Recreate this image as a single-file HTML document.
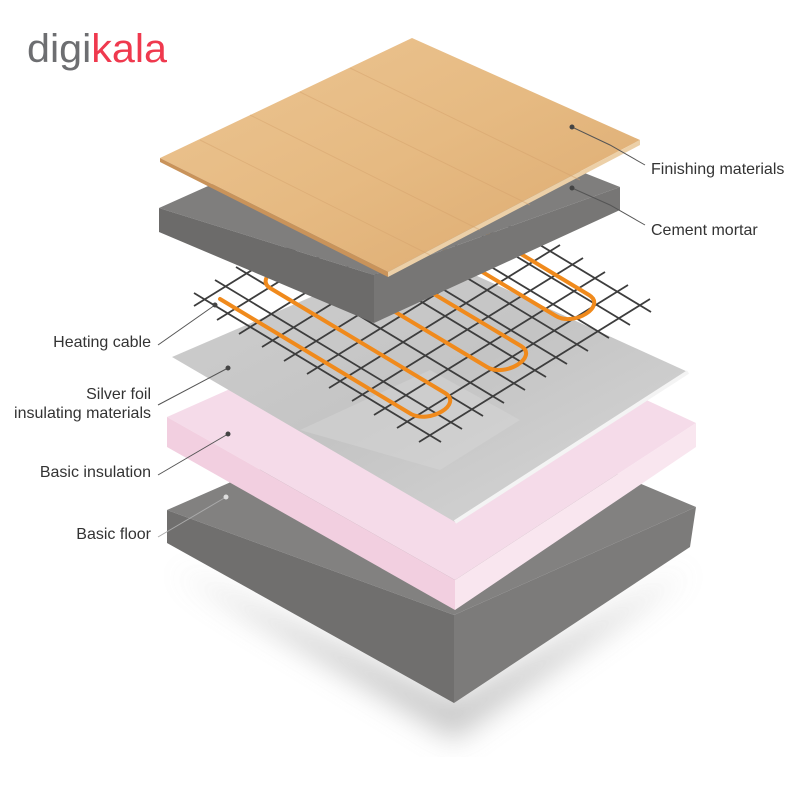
<!DOCTYPE html>
<html><head><meta charset="utf-8"><style>
html,body{margin:0;padding:0;background:#fff;}
svg{display:block;}
text{font-family:"Liberation Sans Narrow","Liberation Sans",sans-serif;}
</style></head><body>
<svg width="800" height="800" viewBox="0 0 800 800" xmlns="http://www.w3.org/2000/svg">
<defs>
<linearGradient id="wood" x1="0" y1="0" x2="1" y2="1">
<stop offset="0" stop-color="#ecc592"/><stop offset="0.5" stop-color="#e6ba82"/><stop offset="1" stop-color="#dcaa70"/>
</linearGradient>
<linearGradient id="foil" x1="0" y1="0" x2="1" y2="1">
<stop offset="0" stop-color="#cfcfcf"/><stop offset="0.5" stop-color="#c4c4c4"/><stop offset="1" stop-color="#d8d8d8"/>
</linearGradient>
<filter id="blur"><feGaussianBlur stdDeviation="14"/></filter>
</defs>
<text x="27" y="62" font-size="40" textLength="140" lengthAdjust="spacingAndGlyphs" style="font-family:'Liberation Sans',sans-serif"><tspan fill="#6d6e71">digi</tspan><tspan fill="#ef394e">kala</tspan></text>

<!-- shadow -->
<polygon points="175,570 454,700 690,570 454,740" fill="#bbb" filter="url(#blur)" opacity="0.8"/>

<!-- basic floor -->
<polygon points="167,510 430,395 696,507 454,615" fill="#828180"/>
<polygon points="167,510 454,615 454,703 167,543" fill="#706f6e"/>
<polygon points="454,615 696,507 690,547 454,703" fill="#7c7b7a"/>

<!-- pink insulation -->
<polygon points="167,417 430,300 696,423 455,580" fill="#f5dbe9"/>
<polygon points="167,417 455,580 455,610 167,447" fill="#f2cfe0"/>
<polygon points="455,580 696,423 696,447 455,610" fill="#f9e6ef"/>

<!-- foil -->
<polygon points="172,357 420,250 688,372 455,522" fill="url(#foil)"/>
<polyline points="455,522 688,372" stroke="#f4f4f4" stroke-width="4" fill="none"/>
<polygon points="300,430 430,370 520,420 440,470" fill="#d6d6d6" opacity="0.5"/>

<!-- grid -->
<g stroke="#3d3d3d" stroke-width="1.8">
<line x1="194" y1="293" x2="441" y2="442"/>
<line x1="215" y1="280" x2="462" y2="429"/>
<line x1="236" y1="267" x2="483" y2="416"/>
<line x1="257" y1="254" x2="504" y2="403"/>
<line x1="278" y1="241" x2="525" y2="390"/>
<line x1="299" y1="228" x2="546" y2="377"/>
<line x1="320" y1="215" x2="567" y2="364"/>
<line x1="341" y1="202" x2="588" y2="351"/>
<line x1="362" y1="189" x2="609" y2="338"/>
<line x1="383" y1="176" x2="630" y2="325"/>
<line x1="404" y1="163" x2="651" y2="312"/>
<line x1="194" y1="306" x2="425" y2="163"/>
<line x1="217" y1="320" x2="448" y2="177"/>
<line x1="239" y1="334" x2="470" y2="191"/>
<line x1="262" y1="347" x2="493" y2="204"/>
<line x1="284" y1="361" x2="515" y2="218"/>
<line x1="307" y1="374" x2="538" y2="231"/>
<line x1="329" y1="388" x2="560" y2="245"/>
<line x1="352" y1="401" x2="583" y2="258"/>
<line x1="374" y1="415" x2="605" y2="272"/>
<line x1="397" y1="428" x2="628" y2="285"/>
<line x1="419" y1="442" x2="650" y2="299"/>
</g>

<!-- heating cable -->
<path d="M220,299 L411,414 C430,424 463,404 445,393 L270,288 C252,277 294,251 312,262 L487,367 C505,378 539,357 521,346 L345,241 C327,230 369,204 387,215 L556,316 C574,327 607,306 589,295 L443,207" stroke="#f08a1c" stroke-width="4" fill="none" stroke-linecap="round"/>

<!-- cement mortar -->
<polygon points="159,208 400,100 620,187 374,275" fill="#7f7e7d"/>
<polygon points="159,208 374,275 374,323 159,232" fill="#6c6b6a"/>
<polygon points="374,275 620,187 620,210 374,323" fill="#777675"/>

<!-- wood -->
<polygon points="160,158 412,38 640,140 388,272" fill="url(#wood)"/>
<polygon points="160,158 388,272 388,277 160,162" fill="#c9935a"/>
<polygon points="388,272 640,140 640,145 388,277" fill="#ecd0a8"/>
<g stroke="#d4a06a" stroke-width="1" opacity="0.45">
<line x1="200" y1="140" x2="430" y2="255"/>
<line x1="250" y1="115" x2="480" y2="230"/>
<line x1="300" y1="92" x2="530" y2="205"/>
<line x1="350" y1="68" x2="580" y2="180"/>
</g>

<!-- leaders -->
<g stroke="#555" stroke-width="1" fill="none">
<polyline points="572,127 610,145 645,165"/>
<polyline points="572,188 610,205 645,225"/>
<line x1="158" y1="345" x2="215" y2="305"/>
<line x1="158" y1="405" x2="228" y2="368"/>
<line x1="158" y1="475" x2="228" y2="434"/>
<line x1="158" y1="537" x2="226" y2="497" stroke="#aaa"/>
</g>
<g fill="#444">
<circle cx="572" cy="127" r="2.5"/><circle cx="572" cy="188" r="2.5"/>
<circle cx="215" cy="305" r="2.5"/><circle cx="228" cy="368" r="2.5"/>
<circle cx="228" cy="434" r="2.5"/><circle cx="226" cy="497" r="2.5" fill="#ddd"/>
</g>

<g fill="#333" font-size="16">
<text x="651" y="174">Finishing materials</text>
<text x="651" y="235">Cement mortar</text>
<text x="151" y="347" text-anchor="end">Heating cable</text>
<text x="151" y="399" text-anchor="end">Silver foil</text>
<text x="151" y="418" text-anchor="end">insulating materials</text>
<text x="151" y="477" text-anchor="end">Basic insulation</text>
<text x="151" y="539" text-anchor="end">Basic floor</text>
</g>
</svg>
</body></html>
